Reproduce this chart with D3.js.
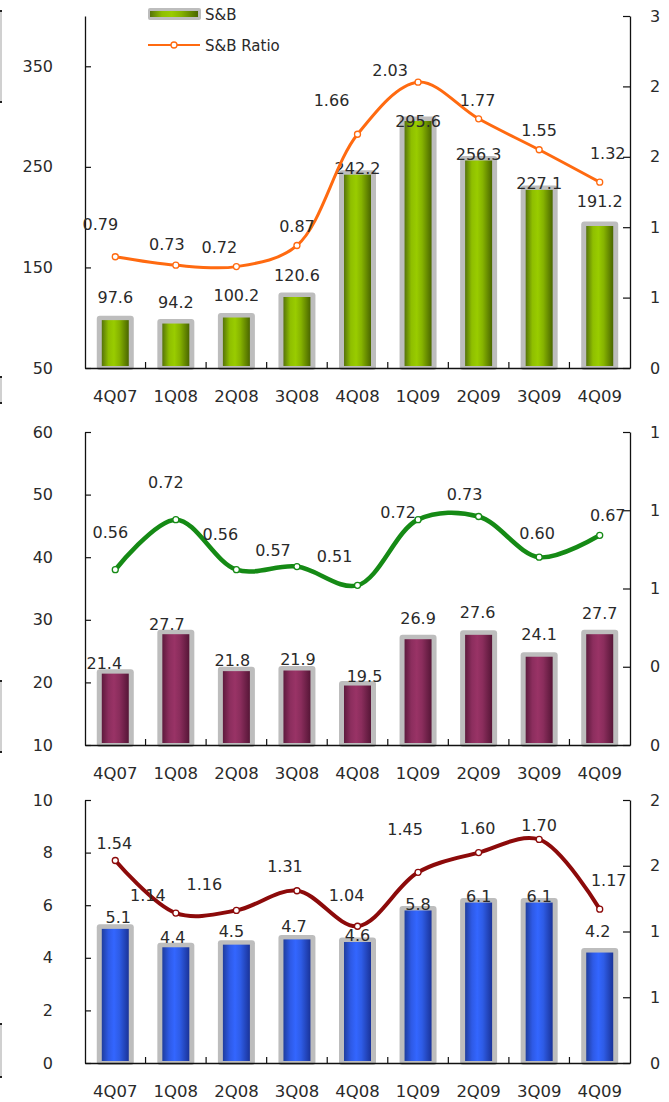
<!DOCTYPE html>
<html>
<head>
<meta charset="utf-8">
<script src="https://cdn.jsdelivr.net/npm/d3@7"></script>
<style>
  html, body { margin: 0; padding: 0; background: #fff; }
  svg { display: block; font-family: "DejaVu Sans", Verdana, sans-serif; }
</style>
</head>
<body>
<svg id="chart" width="669" height="1102"></svg>
<script>
// ---------------- DATA ----------------
const categories = ["4Q07", "1Q08", "2Q08", "3Q08", "4Q08", "1Q09", "2Q09", "3Q09", "4Q09"];

const sbValues   = [97.6, 94.2, 100.2, 120.6, 242.2, 295.6, 256.3, 227.1, 191.2];
const sbRatio    = [0.79, 0.73, 0.72, 0.87, 1.66, 2.03, 1.77, 1.55, 1.32];

const midValues  = [21.4, 27.7, 21.8, 21.9, 19.5, 26.9, 27.6, 24.1, 27.7];
const midRatio   = [0.56, 0.72, 0.56, 0.57, 0.51, 0.72, 0.73, 0.60, 0.67];

const lowValues  = [5.1, 4.4, 4.5, 4.7, 4.6, 5.8, 6.1, 6.1, 4.2];
const lowRatio   = [1.54, 1.14, 1.16, 1.31, 1.04, 1.45, 1.60, 1.70, 1.17];

const p1LeftTicks  = [50, 150, 250, 350];
const p1RightTicks = [0, 0.5, 1, 1.5, 2, 2.5];
const p2LeftTicks  = [10, 20, 30, 40, 50, 60];
const p2RightTicks = [0, 0.25, 0.5, 0.75, 1];
const p3LeftTicks  = [0, 2, 4, 6, 8, 10];
const p3RightTicks = [0, 0.5, 1, 1.5, 2];

const legendLabels = ["S&B", "S&B Ratio"];

// ---------------- LAYOUT (positions / styles only) ----------------
const X0 = 85, X1 = 630;
const panels = [
  { top: 16,  bottom: 368,  left: [50, 400], right: [0, 2.5],
    bars: sbValues, ratio: sbRatio, lt: p1LeftTicks, rt: p1RightTicks,
    grad: ["#56730a", "#8fbf00", "#99cc00", "#86b300", "#4a6600"], lineColor: "#ff6a10", lineW: 3,
    barLab: [[0,13],[0,11],[0,12],[0,11],[0,-4],[0,-11],[0,-4],[0,-4],[0,14]],
    lineLab: [[-15,-33],[-9,-21],[-17,-19],[0,-19],[-26,-34],[-28,-12],[-1,-19],[0,-20],[8,-29]] },
  { top: 432, bottom: 745,  left: [10, 60], right: [0, 1],
    bars: midValues, ratio: midRatio, lt: p2LeftTicks, rt: p2RightTicks,
    grad: ["#5e1a3d", "#8c2e5e", "#993366", "#8a2d5c", "#561637"], lineColor: "#158a15", lineW: 4.5,
    barLab: [[-11,0],[-9,0],[-4,1],[1,1],[7,-1],[0,11],[-1,12],[0,12],[0,11]],
    lineLab: [[-5,-37],[-10,-37],[-16,-35],[-24,-16],[-23,-29],[-20,-7],[-14,-22],[-2,-24],[8,-20]] },
  { top: 800, bottom: 1063, left: [0, 10], right: [0, 2],
    bars: lowValues, ratio: lowRatio, lt: p3LeftTicks, rt: p3RightTicks,
    grad: ["#1f3d9e", "#2e5ae6", "#3366ff", "#2e5ce6", "#1a3399"], lineColor: "#8c0a0a", lineW: 4,
    barLab: [[3,1],[-3,0],[-5,3],[-3,3],[0,-3],[0,-4],[0,-4],[0,-4],[-2,11]],
    lineLab: [[-1,-17],[-28,-18],[-32,-26],[-12,-24],[-11,-31],[-13,-43],[-1,-24],[0,-14],[9,-29]] }
];

const svg = d3.select("#chart");
const defs = svg.append("defs");
const FONT = 16;
const TXT = "#2a2a2a";

const x = d3.scaleBand().domain(categories).range([X0, X1]).padding(0);
const cx = c => x(c) + x.bandwidth() / 2;

panels.forEach((p, pi) => {
  const yL = d3.scaleLinear().domain(p.left).range([p.bottom, p.top]);
  const yR = d3.scaleLinear().domain(p.right).range([p.bottom, p.top]);

  const gid = "grad" + pi;
  const g = defs.append("linearGradient").attr("id", gid).attr("x1", "0%").attr("x2", "100%").attr("y1", "0%").attr("y2", "0%");
  [0, 0.25, 0.45, 0.65, 1].forEach((o, i) => g.append("stop").attr("offset", o).attr("stop-color", p.grad[i]));

  const root = svg.append("g");

  const bw = 27, bb = 37;
  root.selectAll(".bord").data(p.bars).join("rect")
    .attr("x", (d, i) => cx(categories[i]) - bb / 2)
    .attr("y", d => yL(d) - 4.5)
    .attr("width", bb)
    .attr("height", d => p.bottom + 2 - (yL(d) - 4.5))
    .attr("rx", 3)
    .attr("fill", "#bdbdbd");
  root.selectAll(".body").data(p.bars).join("rect")
    .attr("x", (d, i) => cx(categories[i]) - bw / 2)
    .attr("y", d => yL(d))
    .attr("width", bw)
    .attr("height", d => p.bottom - 2 - yL(d))
    .attr("fill", `url(#${gid})`);

  const la = d3.axisLeft(yL).tickValues(p.lt).tickSizeInner(-6).tickSizeOuter(0).tickPadding(32).tickFormat(d3.format("d"));
  const lg = root.append("g").attr("transform", `translate(${X0},0)`).call(la);
  const ra = d3.axisRight(yR).tickValues(p.rt).tickSizeInner(-7).tickSizeOuter(0).tickPadding(20).tickFormat(d => String(Math.round(d)));
  const rg = root.append("g").attr("transform", `translate(${X1},0)`).call(ra);
  [lg, rg].forEach(a => {
    a.selectAll("path.domain").attr("stroke", "#111").attr("stroke-width", 1.3);
    a.selectAll(".tick line").attr("stroke", "#111").attr("stroke-width", 1.2);
    a.selectAll("text").attr("font-size", FONT).attr("fill", TXT).attr("font-family", "DejaVu Sans");
  });

  const xa = d3.axisBottom(x).tickSize(0).tickPadding(22);
  const xg = root.append("g").attr("transform", `translate(0,${p.bottom})`).call(xa);
  xg.selectAll("path.domain").attr("stroke", "#111").attr("stroke-width", 1.3);
  xg.selectAll("text").attr("font-size", 16.5).attr("fill", TXT).attr("font-family", "DejaVu Sans");
  root.selectAll(".xt").data(categories.slice(1)).join("line")
    .attr("x1", d => x(d)).attr("x2", d => x(d))
    .attr("y1", p.bottom).attr("y2", p.bottom - 6)
    .attr("stroke", "#111").attr("stroke-width", 1.2);

  root.selectAll(".bl").data(p.bars).join("text")
    .attr("x", (d, i) => cx(categories[i]) + p.barLab[i][0])
    .attr("y", (d, i) => yL(d) - 4.5 - p.barLab[i][1])
    .attr("text-anchor", "middle")
    .attr("font-size", FONT).attr("fill", TXT)
    .text(d => d.toFixed(1));

  const line = d3.line()
    .x((d, i) => cx(categories[i]))
    .y(d => yR(d))
    .curve(d3.curveCatmullRom.alpha(0.5));
  root.append("path").datum(p.ratio)
    .attr("d", line).attr("fill", "none")
    .attr("stroke", p.lineColor).attr("stroke-width", p.lineW)
    .attr("stroke-linecap", "round");
  root.selectAll(".mk").data(p.ratio).join("circle")
    .attr("cx", (d, i) => cx(categories[i]))
    .attr("cy", d => yR(d))
    .attr("r", 3)
    .attr("fill", "#fff").attr("stroke", p.lineColor).attr("stroke-width", 1.3);

  root.selectAll(".ll").data(p.ratio).join("text")
    .attr("x", (d, i) => cx(categories[i]) + p.lineLab[i][0])
    .attr("y", (d, i) => yR(d) + p.lineLab[i][1])
    .attr("dy", "0.36em")
    .attr("text-anchor", "middle")
    .attr("font-size", FONT).attr("fill", TXT)
    .text(d => d.toFixed(2));
});

// legend (top panel)
const leg = svg.append("g");
leg.append("rect").attr("x", 148).attr("y", 8).attr("width", 53).attr("height", 12).attr("rx", 2).attr("fill", "#bdbdbd");
leg.append("rect").attr("x", 150).attr("y", 11).attr("width", 48).attr("height", 6).attr("fill", "url(#grad0)");
leg.append("line").attr("x1", 148).attr("x2", 200).attr("y1", 45).attr("y2", 45)
  .attr("stroke", panels[0].lineColor).attr("stroke-width", 2);
leg.append("circle").attr("cx", 174).attr("cy", 45).attr("r", 3)
  .attr("fill", "#fff").attr("stroke", panels[0].lineColor).attr("stroke-width", 1.3);
leg.selectAll("text").data(legendLabels).join("text")
  .attr("x", 205).attr("y", (d, i) => i === 0 ? 20 : 51)
  .attr("font-size", 15).attr("fill", TXT)
  .text(d => d);

// frame fragments at the left edge
const frag = [[10, 103], [376, 404], [680, 753], [1023, 1078]];
frag.forEach(([a, b]) => {
  svg.append("line").attr("x1", 1).attr("x2", 1).attr("y1", a).attr("y2", b).attr("stroke", "#d0d0d0").attr("stroke-width", 2);
  svg.append("rect").attr("x", 0).attr("y", a).attr("width", 2).attr("height", 2).attr("fill", "#222");
  svg.append("rect").attr("x", 0).attr("y", b - 2).attr("width", 2).attr("height", 2).attr("fill", "#222");
});
</script>
</body>
</html>
